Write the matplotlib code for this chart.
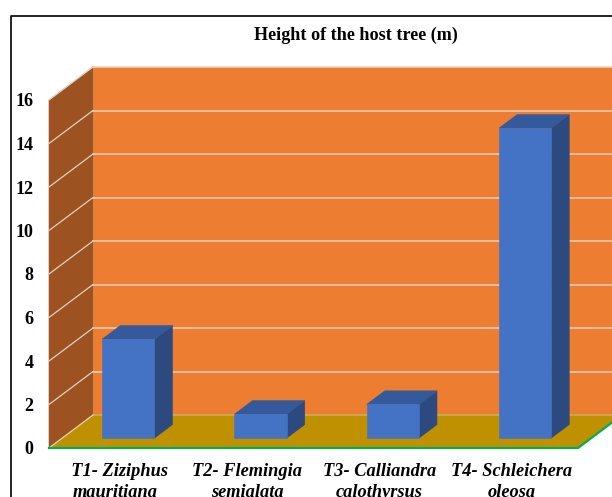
import matplotlib
matplotlib.use("Agg")
import matplotlib.pyplot as plt
from matplotlib.lines import Line2D
from matplotlib.patches import Polygon
from matplotlib.transforms import Affine2D

categories = ["  T1- Ziziphus\nmauritiana", "T2- Flemingia\nsemialata",
              "T3- Calliandra\ncalothyrsus", "T4- Schleichera\noleosa"]
heights = [4.55, 1.1, 1.55, 14.25]
y_ticks = [0, 2, 4, 6, 8, 10, 12, 14, 16]
title = "Height of the host tree (m)"

W, H = 612, 497
DEPTH_X, DEPTH_Y = 44, 33      # pixel offset of the back wall from the front plane
BAR_NEAR, BAR_FAR = 0.30, 0.71 # bar depth range as a fraction of the floor depth
BAR_WIDTH = 0.395

WALL = "#ed7d31"
SIDE_WALL = "#9c5221"
FLOOR = "#bf9000"
EDGE = "#00b050"
GRID = "#e6d0bf"
BAR_FRONT = "#4472c4"
BAR_TOP = "#355a9c"
BAR_SIDE = "#2c4a80"

plt.rcParams["font.family"] = "Liberation Serif"
fig = plt.figure(figsize=(W / 100, H / 100), dpi=100)
ax = fig.add_axes([49 / W, 1 - 448 / H, 529 / W, 348 / H])
ax.set_xlim(-0.5, 3.5)
ax.set_ylim(0, 16)
ax.patch.set_visible(False)
for spine in ax.spines.values():
    spine.set_visible(False)


def at_depth(frac):
    """Data transform shifted back along the oblique depth axis."""
    return ax.transData + Affine2D().translate(DEPTH_X * frac, DEPTH_Y * frac)


def oblique(points, color, zorder):
    """Fill a face whose vertices are (x, value, depth fraction)."""
    verts = [at_depth(d).transform((x, y)) for x, y, d in points]
    ax.add_patch(Polygon(verts, closed=True, transform=None, facecolor=color,
                         edgecolor=color, linewidth=0.4, zorder=zorder, clip_on=False))


x0, x1 = ax.get_xlim()

# Walls and floor
oblique([(x0, 0, 1), (x1, 0, 1), (x1, 16, 1), (x0, 16, 1)], WALL, 1)
oblique([(x0, 0, 0), (x0, 0, 1), (x0, 16, 1), (x0, 16, 0)], SIDE_WALL, 1)
oblique([(x0, 0, 0), (x1, 0, 0), (x1, 0, 1), (x0, 0, 1)], FLOOR, 1)

# Gridlines run along the back wall and fold onto the side wall
for v in y_ticks:
    back = at_depth(1)
    start = at_depth(0).transform((x0, v))
    corner = back.transform((x0, v))
    end = back.transform((x1, v))
    colour = "#c9b06a" if v == 0 else GRID
    ax.add_line(Line2D([corner[0], end[0]], [corner[1], end[1]], transform=None,
                       color=colour, lw=1.1, zorder=2, clip_on=False))
    ax.add_line(Line2D([start[0], corner[0]], [start[1], corner[1]], transform=None,
                       color=GRID, lw=0.9, zorder=2, clip_on=False))

# Green baseline along the front and right floor edges
p0 = at_depth(0).transform((x0, 0))
p1 = at_depth(0).transform((x1, 0))
p2 = at_depth(1).transform((x1, 0))
ax.add_line(Line2D([p0[0], p1[0], p2[0]], [p0[1], p1[1], p2[1]], transform=None,
                   color=EDGE, lw=1.6, zorder=3, clip_on=False))

# Bars
for i, h in enumerate(heights):
    l, r = i - BAR_WIDTH / 2, i + BAR_WIDTH / 2
    oblique([(r, 0, BAR_NEAR), (r, 0, BAR_FAR), (r, h, BAR_FAR), (r, h, BAR_NEAR)], BAR_SIDE, 4)
    oblique([(l, h, BAR_NEAR), (r, h, BAR_NEAR), (r, h, BAR_FAR), (l, h, BAR_FAR)], BAR_TOP, 4)
    oblique([(l, 0, BAR_NEAR), (r, 0, BAR_NEAR), (r, h, BAR_NEAR), (l, h, BAR_NEAR)], BAR_FRONT, 5)

ax.set_yticks(y_ticks)
ax.set_xticks(range(len(categories)))
ax.set_xticklabels(categories, fontsize=13.2, fontweight="bold", fontstyle="italic",
                   linespacing=1.3)
for lab in ax.get_yticklabels():
    lab.set_fontsize(13)
    lab.set_fontweight("bold")
ax.tick_params(axis="both", length=0)
ax.tick_params(axis="y", pad=11)
ax.tick_params(axis="x", pad=11)

fig.text(355.5 / W, 1 - 35 / H, title, ha="center", va="center", fontsize=13.1, fontweight="bold")

# Chart frame, open towards the right and bottom
fig.add_artist(Line2D([10.5 / W, 10.5 / W, 1], [0, 1 - 15.5 / H, 1 - 15.5 / H],
                      transform=fig.transFigure, color="black", lw=1.2))

fig.savefig("out.png", dpi=100)
